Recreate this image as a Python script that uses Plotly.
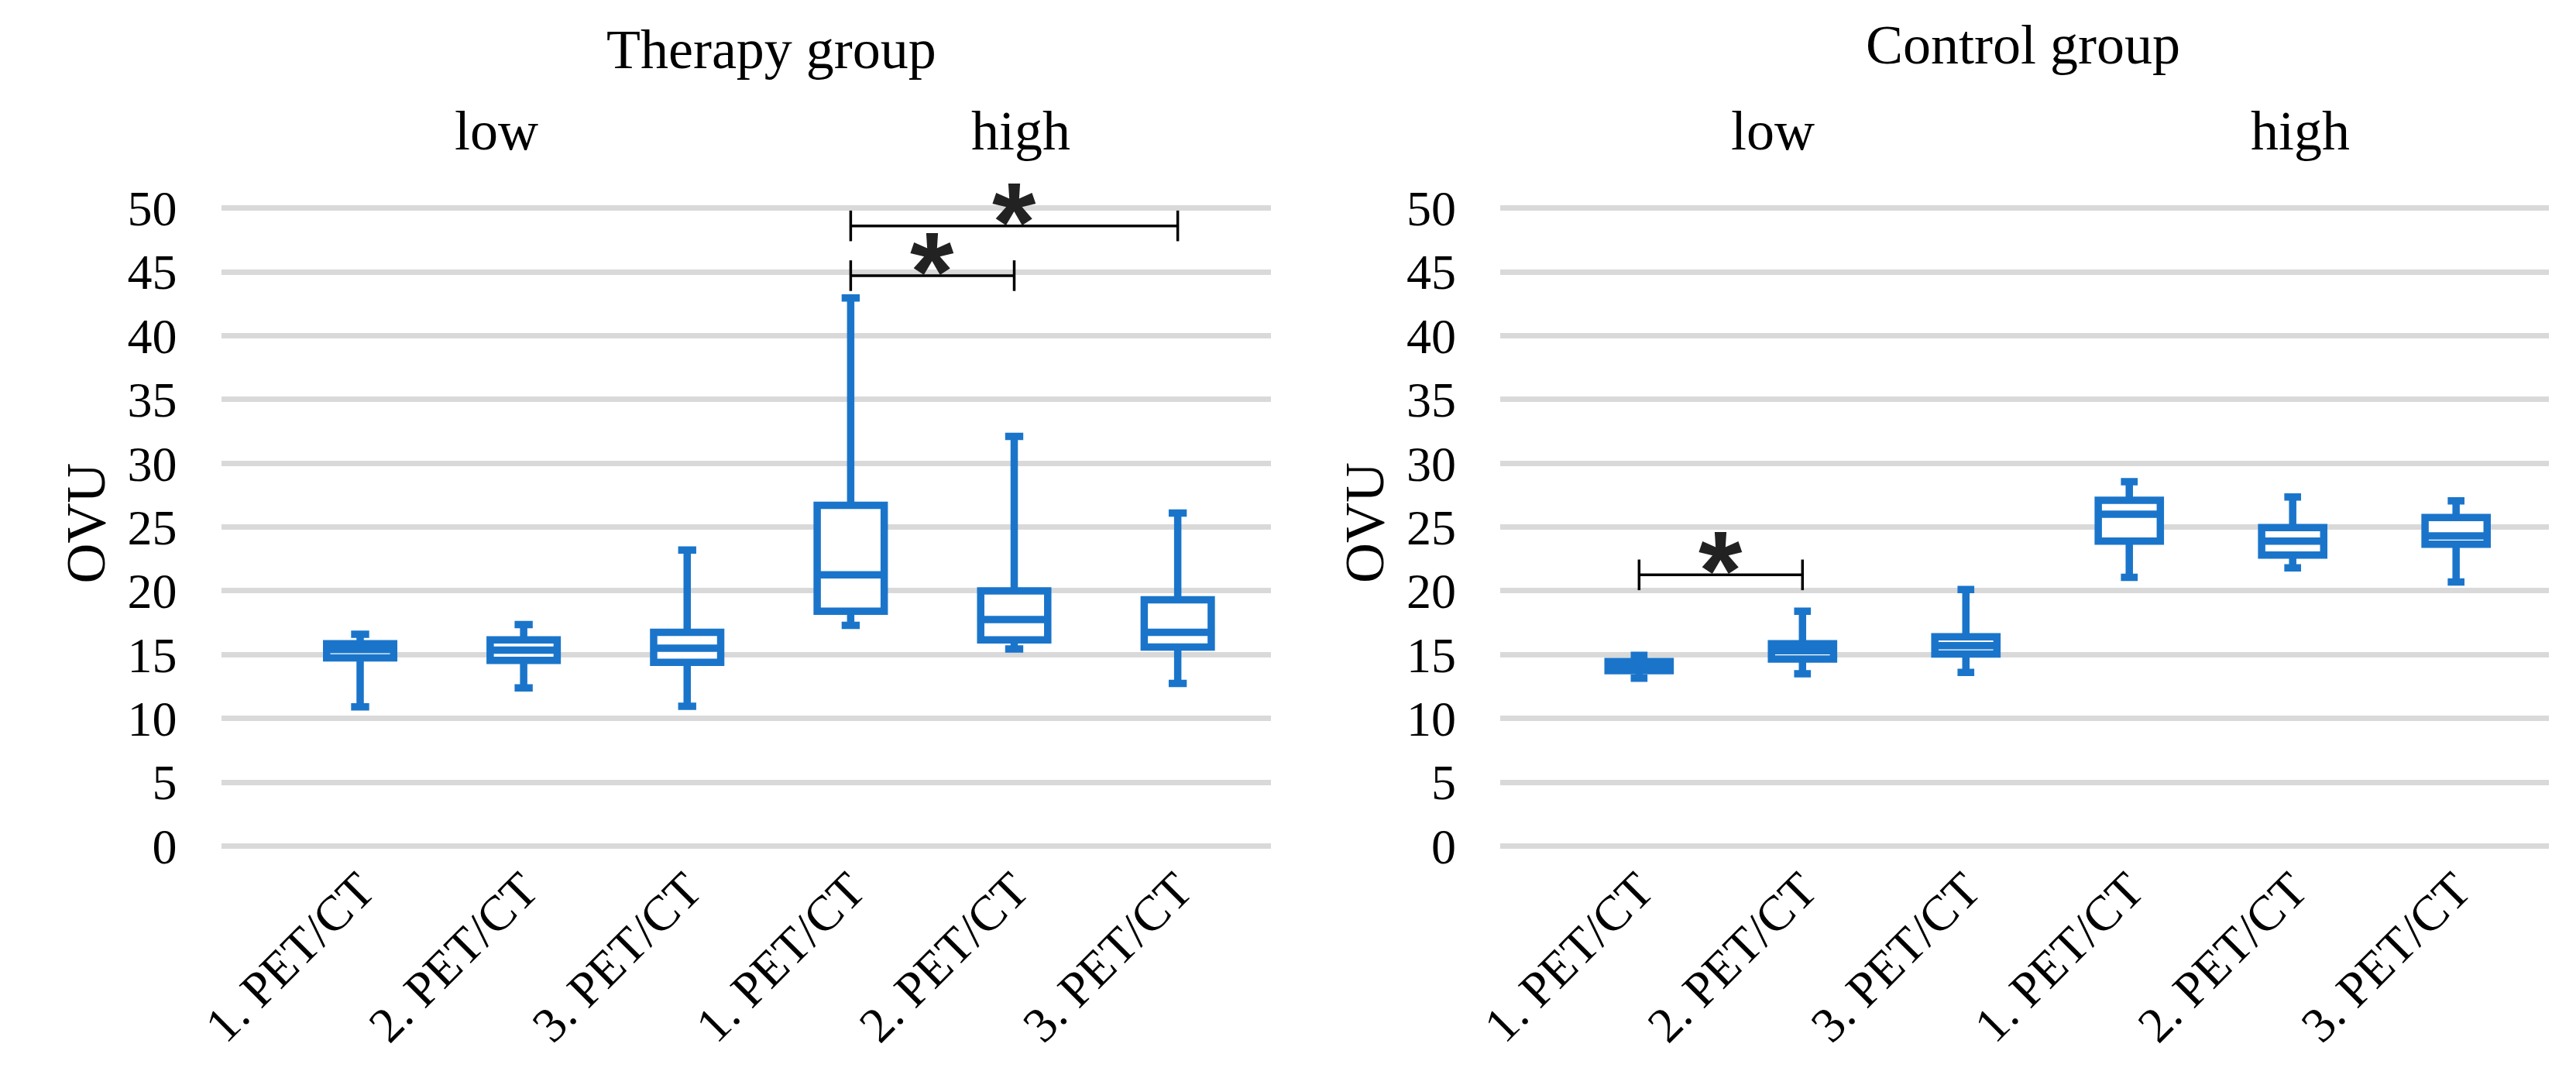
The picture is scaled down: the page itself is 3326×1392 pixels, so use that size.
import plotly.graph_objects as go

# ---------------- data ----------------
categories = ["1. PET/CT", "2. PET/CT", "3. PET/CT", "1. PET/CT", "2. PET/CT", "3. PET/CT"]
group_labels = ["low", "high"]
panel_titles = ["Therapy group", "Control group"]
y_ticks = [0, 5, 10, 15, 20, 25, 30, 35, 40, 45, 50]

therapy_lower = [10.9, 12.4, 10.95, 17.3, 15.45, 12.75]
therapy_q1 = [14.75, 14.55, 14.4, 18.4, 16.15, 15.6]
therapy_median = [15.4, 15.35, 15.5, 21.25, 17.75, 16.75]
therapy_q3 = [15.85, 16.15, 16.75, 26.7, 20.0, 19.3]
therapy_upper = [16.6, 17.35, 23.2, 42.95, 32.1, 26.1]

control_lower = [13.15, 13.5, 13.6, 21.05, 21.8, 20.7]
control_q1 = [13.75, 14.65, 15.05, 23.9, 22.8, 23.65]
control_median = [14.1, 15.3, 15.7, 26.0, 23.9, 24.3]
control_q3 = [14.45, 15.85, 16.4, 27.1, 24.95, 25.75]
control_upper = [14.95, 18.4, 20.1, 28.55, 27.35, 27.05]

# significance comparisons: (from category index, to category index, bar level)
therapy_sig = [(3, 5, 48.6), (3, 4, 44.7)]
control_sig = [(0, 1, 21.25)]

# ---------------- style ----------------
W, H = 3326, 1392
BLUE = "#1A75CA"
GRID = "#D9D9D9"
SERIF = "Liberation Serif"

def px_x(p):
    return p / W

def px_y(p):
    return 1 - p / H

x_dom = [[px_x(247), px_x(1616)], [px_x(1915), px_x(3283)]]
y_dom = [px_y(1114), px_y(232)]
x_range = [-0.85, 5.57]
y_range = [-0.3, 52]
positions = list(range(len(categories)))

fig = go.Figure()

panels = [
    (therapy_lower, therapy_q1, therapy_median, therapy_q3, therapy_upper, "x", "y", 0.41),
    (control_lower, control_q1, control_median, control_q3, control_upper, "x2", "y2", 0.38),
]
for lo, q1, med, q3, up, xa, ya, w in panels:
    fig.add_trace(go.Box(
        x=positions, lowerfence=lo, q1=q1, median=med, q3=q3, upperfence=up,
        xaxis=xa, yaxis=ya, width=w, whiskerwidth=0.27,
        fillcolor="white", line=dict(color=BLUE, width=9.5),
        boxpoints=False, showlegend=False, hoverinfo="skip",
    ))

axis_common_x = dict(
    range=x_range, tickmode="array", tickvals=positions, ticktext=categories,
    tickangle=-45, showgrid=False, zeroline=False, showline=False, ticks="",
    tickfont=dict(family=SERIF, size=64, color="black"), fixedrange=True,
)
axis_common_y = dict(
    range=y_range, tickmode="array", tickvals=y_ticks, showgrid=True,
    gridcolor=GRID, gridwidth=7, zeroline=False, showline=False, ticks="",
    ticklabelstandoff=56,
    tickfont=dict(family=SERIF, size=64, color="black"), fixedrange=True,
)

fig.update_layout(
    width=W, height=H,
    margin=dict(l=0, r=0, t=0, b=0),
    paper_bgcolor="white", plot_bgcolor="white",
    xaxis=dict(domain=x_dom[0], anchor="y", **axis_common_x),
    yaxis=dict(domain=y_dom, anchor="x", **axis_common_y),
    xaxis2=dict(domain=x_dom[1], anchor="y2", **axis_common_x),
    yaxis2=dict(domain=y_dom, anchor="x2", **axis_common_y),
    showlegend=False,
)

annotations = []
for title, xc, yc in [(panel_titles[0], 965, 56), (panel_titles[1], 2597, 50)]:
    annotations.append(dict(text=title, x=px_x(xc), y=px_y(yc), xref="paper", yref="paper",
                            xanchor="center", yanchor="middle", showarrow=False,
                            font=dict(family=SERIF, size=72, color="black")))
for lab, xc in [(group_labels[0], 606), (group_labels[1], 1290), (group_labels[0], 2271), (group_labels[1], 2958)]:
    annotations.append(dict(text=lab, x=px_x(xc), y=px_y(164), xref="paper", yref="paper",
                            xanchor="center", yanchor="middle", showarrow=False,
                            font=dict(family=SERIF, size=72, color="black")))
for xc in [71, 1739]:
    annotations.append(dict(text="OVU", x=px_x(xc), y=px_y(682), xref="paper", yref="paper",
                            xanchor="center", yanchor="middle", textangle=-90, showarrow=False,
                            font=dict(family=SERIF, size=72, color="black")))

shapes = []
CAP = 1.2
for sigs, xa, ya in [(therapy_sig, "x", "y"), (control_sig, "x2", "y2")]:
    for a, b, lvl in sigs:
        line = dict(color="black", width=3.5)
        shapes.append(dict(type="line", xref=xa, yref=ya, x0=a, x1=b, y0=lvl, y1=lvl, line=line))
        shapes.append(dict(type="line", xref=xa, yref=ya, x0=a, x1=a, y0=lvl - CAP, y1=lvl + CAP, line=line))
        shapes.append(dict(type="line", xref=xa, yref=ya, x0=b, x1=b, y0=lvl - CAP, y1=lvl + CAP, line=line))
        annotations.append(dict(text="<b>*</b>", x=(a + b) / 2, y=lvl, xref=xa, yref=ya,
                                xanchor="center", yanchor="bottom", yshift=-78, showarrow=False,
                                font=dict(family="Liberation Sans", size=145, color="#222222")))

fig.update_layout(annotations=annotations, shapes=shapes)
fig.write_html("out.html")
